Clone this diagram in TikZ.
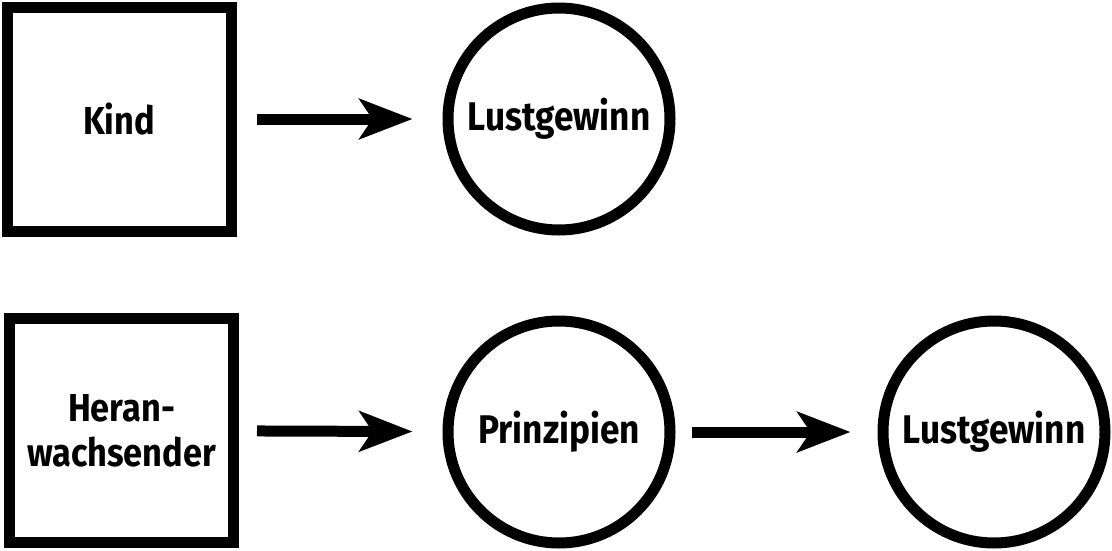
\documentclass[tikz,border=0pt]{standalone}
\usepackage{fontspec}
\setmainfont{Fira Sans}[FakeStretch=0.88]
\usetikzlibrary{arrows.meta}

\begin{document}
\begin{tikzpicture}[x=1pt, y=-1pt, >={Stealth[length=53pt, width=40pt, inset=13pt]},
    box/.style={draw, line width=11pt, minimum size=224pt, inner sep=0pt, font=\fontsize{39}{45}\selectfont\bfseries, align=center},
    goal/.style={draw, circle, line width=11pt, minimum size=222pt, inner sep=0pt, font=\fontsize{40}{45}\selectfont\bfseries},
    flow/.style={->, line width=11pt}]
    \useasboundingbox (0,0) rectangle (1112,550);

    % Kind
    \node[box] (kind) at (119,119) {Kind};
    \node[goal] (lust1) at (559,119) {Lustgewinn};
    \draw[flow, shorten <=20pt, shorten >=30pt] (kind) -- (lust1);

    % Heranwachsender
    \node[box] (heran) at (121.5,430.5) {Heran-\\wachsender};
    \node[goal] (prinz) at (559,432) {Prinzipien};
    \node[goal] (lust2) at (994,432) {Lustgewinn};
    \draw[flow, shorten <=18pt, shorten >=30pt] (heran) -- (prinz);
    \draw[flow, shorten <=16pt, shorten >=27pt] (prinz) -- (lust2);
\end{tikzpicture}
\end{document}
